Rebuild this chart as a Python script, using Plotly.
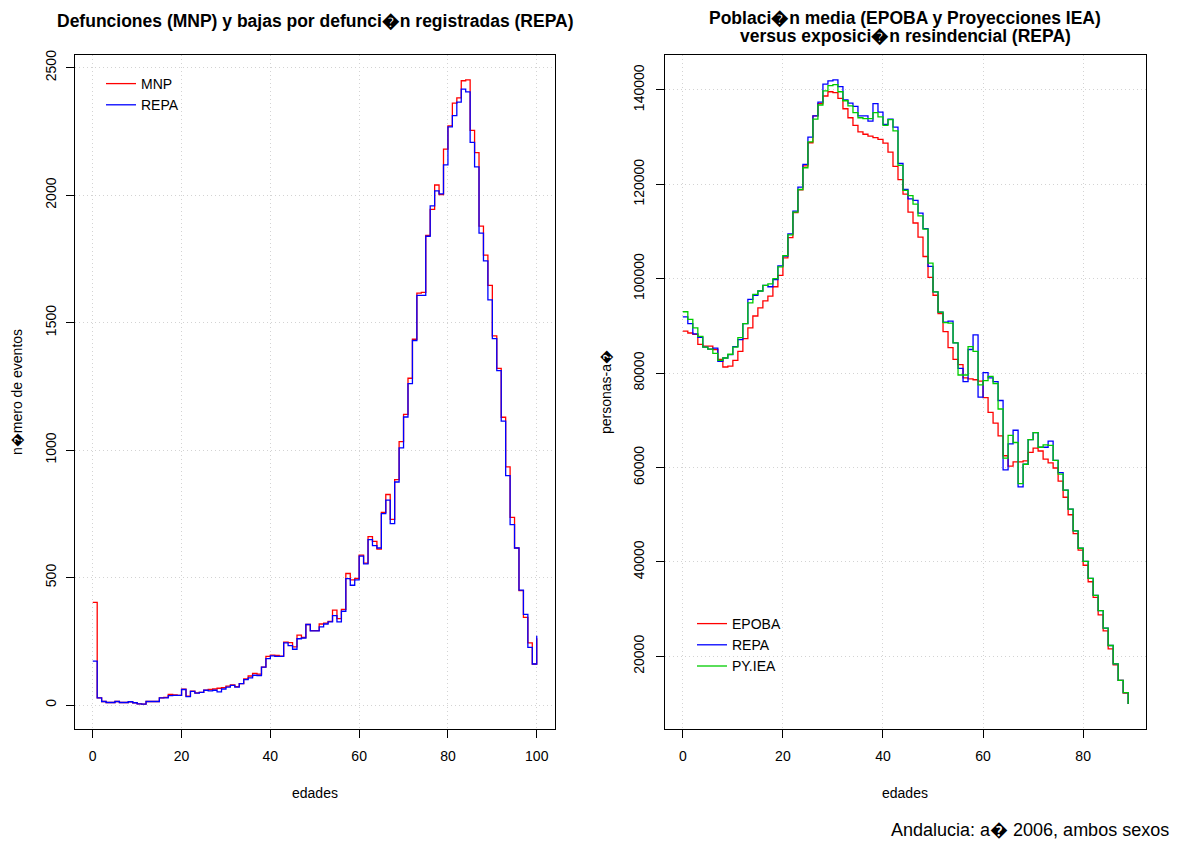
import plotly.graph_objects as go

# ---- left panel: deaths by age (0..100) ----
ages_left = list(range(0, 101))
mnp = [403, 28, 14, 10, 10, 14, 10, 10, 13, 9,
       5, 4, 14, 14, 14, 28, 30, 42, 40, 38,
       62, 35, 55, 48, 50, 58, 61, 63, 66, 68,
       74, 79, 72, 84, 103, 114, 124, 121, 149, 191,
       196, 195, 192, 247, 245, 228, 274, 265, 316, 292,
       292, 318, 321, 328, 372, 339, 375, 516, 491, 497,
       588, 557, 661, 642, 612, 756, 826, 728, 884, 1033,
       1140, 1282, 1435, 1616, 1619, 1842, 1944, 2040, 2002, 2181,
       2272, 2361, 2382, 2449, 2452, 2254, 2167, 1879, 1765, 1646,
       1448, 1321, 1129, 934, 736, 616, 449, 344, 244, 161,
       262]
repa_def = [172, 28, 14, 10, 10, 14, 10, 10, 13, 9,
            5, 4, 14, 14, 14, 28, 28, 37, 38, 38,
            61, 33, 54, 47, 50, 58, 56, 58, 52, 63,
            70, 77, 70, 84, 100, 107, 117, 116, 149, 182,
            193, 191, 191, 244, 233, 219, 260, 263, 316, 291,
            291, 307, 318, 326, 351, 326, 368, 496, 470, 491,
            584, 554, 649, 625, 616, 751, 804, 712, 875, 1009,
            1130, 1261, 1430, 1607, 1607, 1839, 1958, 2017, 2005, 2119,
            2268, 2312, 2365, 2416, 2405, 2207, 2111, 1851, 1742, 1589,
            1437, 1312, 1114, 900, 708, 616, 451, 356, 226, 161,
            272]

# ---- right panel: population / exposure by age (0..89) ----
ages_right = list(range(0, 90))
epoba = [88900, 88500, 88200, 86100, 85700, 85700, 85000, 82900, 81300, 81500,
         82700, 84600, 87300, 89600, 92100, 93800, 95300, 96300, 98300, 100700,
         104400, 108700, 114000, 118800, 123900, 128800, 134500, 137100, 138700, 139600,
         139400, 138200, 136000, 134100, 132500, 131100, 130600, 130200, 129900, 129500,
         128700, 126800, 123800, 121000, 117900, 114100, 111800, 108800, 104700, 100300,
         96500, 92600, 88800, 85400, 82900, 81800, 79000, 78800, 78600, 78300,
         74800, 71700, 69400, 66700, 62500, 60300, 61200, 61200, 61400, 63200,
         64100, 63500, 61800, 61000, 59900, 57100, 53700, 50000, 46000, 42500,
         39300, 35800, 32500, 28800, 25400, 21600, 18200, 14900, 12200, 9900]
repa_exp = [91900, 90500, 88300, 87600, 85500, 85100, 85300, 82500, 83200, 83900,
            85600, 87100, 90500, 95600, 96500, 97400, 98600, 98300, 99800, 102700,
            104800, 109500, 114300, 119400, 124200, 130000, 134500, 137400, 141200, 141900,
            142100, 140700, 137900, 137200, 136500, 134500, 134500, 133400, 137100, 135300,
            132700, 133800, 132100, 124400, 118900, 116900, 116600, 113900, 110600, 102600,
            97200, 92900, 90800, 91000, 86400, 81000, 78200, 85000, 88100, 74900,
            80100, 79000, 78200, 74200, 59500, 65000, 67900, 55900, 60700, 65900,
            67400, 64300, 64300, 65600, 61500, 58900, 55200, 51200, 46600, 42900,
            40100, 36500, 32900, 29700, 26000, 22300, 18400, 14900, 12300, 9900]
py_iea = [93000, 91400, 89600, 87800, 85500, 85100, 84200, 82700, 83200, 84000,
          85500, 87500, 90500, 94900, 96700, 97400, 98600, 98900, 100000, 102500,
          104900, 109300, 114100, 118900, 123500, 129000, 133800, 136800, 139800, 140900,
          141100, 139600, 137700, 136600, 135200, 134100, 133900, 133900, 135200, 134300,
          132500, 133700, 131300, 124000, 118700, 117600, 115800, 113300, 110500, 103300,
          97200, 92900, 90700, 90600, 86400, 79600, 79600, 85600, 84600, 77500,
          78400, 79300, 77800, 72400, 62000, 66800, 65300, 56600, 60700, 65900,
          67400, 64300, 64800, 64700, 61500, 58600, 55200, 51200, 46600, 42900,
          40100, 36500, 32900, 29700, 26000, 22300, 18400, 14900, 12300, 9900]

left_xticks = [0, 20, 40, 60, 80, 100]
left_yticks = [0, 500, 1000, 1500, 2000, 2500]
right_xticks = [0, 20, 40, 60, 80]
right_yticks = [20000, 40000, 60000, 80000, 100000, 120000, 140000]

RED = "#FF0000"
BLUE = "#0000FF"
GREEN = "#00CD00"
FONT = "Liberation Sans, Arial, sans-serif"


def r_range(vals):
    # R's default 4% axis extension
    lo, hi = min(vals), max(vals)
    pad = (hi - lo) * 0.04
    return [lo - pad, hi + pad]


fig = go.Figure()

fig.add_trace(go.Scatter(x=ages_left, y=mnp, name="MNP", mode="lines", line_shape="hv",
                         line=dict(color=RED, width=1.3), xaxis="x", yaxis="y", legend="legend"))
fig.add_trace(go.Scatter(x=ages_left, y=repa_def, name="REPA", mode="lines", line_shape="hv",
                         line=dict(color=BLUE, width=1.3), xaxis="x", yaxis="y", legend="legend"))

fig.add_trace(go.Scatter(x=ages_right, y=epoba, name="EPOBA", mode="lines", line_shape="hv",
                         line=dict(color=RED, width=1.3), xaxis="x2", yaxis="y2", legend="legend2"))
fig.add_trace(go.Scatter(x=ages_right, y=repa_exp, name="REPA", mode="lines", line_shape="hv",
                         line=dict(color=BLUE, width=1.3), xaxis="x2", yaxis="y2", legend="legend2"))
fig.add_trace(go.Scatter(x=ages_right, y=py_iea, name="PY.IEA", mode="lines", line_shape="hv",
                         line=dict(color=GREEN, width=1.3), xaxis="x2", yaxis="y2", legend="legend2"))

axis_common = dict(
    showline=True, mirror=True, linecolor="black", linewidth=1,
    ticks="outside", ticklen=8, tickcolor="black", tickwidth=1,
    showgrid=True, gridcolor="#D3D3D3", griddash="1px,3px", gridwidth=1,
    zeroline=False, tickfont=dict(family=FONT, size=14, color="black"),
)

# the page body has an 8px margin, so the figure starts at (8, 8) in the window
OFF = 8
W, H = 1179 - OFF, 841 - OFF
ML, MR, MT, MB = 75 - OFF, 33, 55 - OFF, 112
pw = W - ML - MR
ph = H - MT - MB


def px_x(p):
    return (p - OFF - ML) / pw


def px_y(p):
    return 1 - (p - OFF - MT) / ph


fig.update_layout(
    width=W, height=H,
    margin=dict(l=ML, r=MR, t=MT, b=MB),
    paper_bgcolor="white", plot_bgcolor="white",
    font=dict(family=FONT, size=14, color="black"),
    xaxis=dict(domain=[0, px_x(554.5)], range=r_range(ages_left), tickvals=left_xticks,
               ticklabelstandoff=6, **axis_common),
    yaxis=dict(range=r_range(mnp + repa_def), tickvals=left_yticks, tickangle=-90,
               ticklabelstandoff=4, **axis_common),
    xaxis2=dict(domain=[px_x(665), 1], range=r_range(ages_right), tickvals=right_xticks,
                anchor="y2", ticklabelstandoff=6, **axis_common),
    yaxis2=dict(range=r_range(epoba + repa_exp + py_iea), tickvals=right_yticks, tickangle=-90,
                tickformat="d", anchor="x2", ticklabelstandoff=6, **axis_common),
    legend=dict(x=px_x(101), y=px_y(68), xanchor="left", yanchor="top",
                bgcolor="rgba(0,0,0,0)", borderwidth=0, font=dict(family=FONT, size=14),
                tracegroupgap=0, itemclick=False),
    legend2=dict(x=px_x(692), y=px_y(608), xanchor="left", yanchor="top",
                 bgcolor="rgba(0,0,0,0)", borderwidth=0, font=dict(family=FONT, size=14),
                 tracegroupgap=0, itemclick=False),
    showlegend=True,
)

bold = dict(family=FONT, size=17.5, color="black", weight="bold")
annots = [
    dict(text="Defunciones (MNP) y bajas por defunci\ufffdn registradas (REPA)",
         x=px_x(315), y=px_y(21), font=bold),
    dict(text="Poblaci\ufffdn media (EPOBA y Proyecciones IEA)",
         x=px_x(905), y=px_y(18), font=bold),
    dict(text="versus exposici\ufffdn resindencial (REPA)",
         x=px_x(905), y=px_y(36), font=bold),
    dict(text="edades", x=px_x(315), y=px_y(793), font=dict(family=FONT, size=14)),
    dict(text="edades", x=px_x(905), y=px_y(793), font=dict(family=FONT, size=14)),
    dict(text="n\ufffdmero de eventos", x=px_x(17), y=px_y(392), textangle=-90,
         font=dict(family=FONT, size=14)),
    dict(text="personas-a\ufffd", x=px_x(606), y=px_y(392), textangle=-90,
         font=dict(family=FONT, size=14)),
]
for a in annots:
    fig.add_annotation(xref="paper", yref="paper", showarrow=False,
                       xanchor="center", yanchor="middle", **a)

fig.add_annotation(text="Andalucia: a\ufffd 2006, ambos sexos", xref="paper", yref="paper",
                   x=px_x(1171), y=px_y(830), xanchor="right", yanchor="middle",
                   showarrow=False, font=dict(family=FONT, size=18))

fig.write_html("out.html")
